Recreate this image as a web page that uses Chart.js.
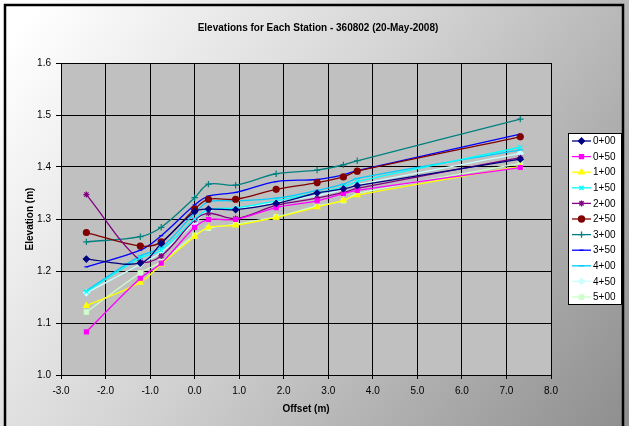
<!DOCTYPE html>
<html>
<head>
<meta charset="utf-8">
<script src="https://cdn.jsdelivr.net/npm/chart.js@4.4.1/dist/chart.umd.min.js"></script>
<style>
  html, body { margin: 0; padding: 0; background: #fff; }
  #wrap { width: 629px; height: 426px; }
</style>
</head>
<body>
<div id="wrap"><canvas id="chartCanvas" width="629" height="426"></canvas></div>
<script>
// offsets (m) shared by all stations
const offsets = [-2.43, -1.22, -0.75, 0.0, 0.31, 0.92, 1.83, 2.75, 3.34, 3.65, 7.31];

const stations = ["0+00", "0+50", "1+00", "1+50", "2+00", "2+50", "3+00", "3+50", "4+00", "4+50", "5+00"];

const elev_0_00 = [1.223, 1.215, 1.253, 1.314, 1.319, 1.318, 1.330, 1.350, 1.358, 1.364, 1.415];
const elev_0_50 = [1.083, 1.186, 1.215, 1.284, 1.299, 1.299, 1.322, 1.335, 1.349, 1.355, 1.399];
const elev_1_00 = [1.133, 1.178, 1.213, 1.266, 1.284, 1.288, 1.303, 1.323, 1.336, 1.346, 1.401];
const elev_1_50 = [1.160, 1.225, 1.240, 1.300, 1.318, 1.321, 1.335, 1.350, 1.362, 1.372, 1.438];
const elev_2_00 = [1.347, 1.220, 1.229, 1.298, 1.311, 1.301, 1.326, 1.340, 1.351, 1.359, 1.418];
const elev_2_50 = [1.274, 1.248, 1.256, 1.319, 1.338, 1.338, 1.357, 1.370, 1.381, 1.392, 1.458];
const elev_3_00 = [1.256, 1.266, 1.284, 1.341, 1.367, 1.365, 1.387, 1.394, 1.404, 1.412, 1.492];
const elev_3_50 = [1.208, 1.240, 1.268, 1.327, 1.344, 1.351, 1.372, 1.376, 1.385, 1.393, 1.463];
const elev_4_00 = [1.162, 1.229, 1.245, 1.311, 1.333, 1.335, 1.340, 1.355, 1.367, 1.378, 1.433];
const elev_4_50 = [1.158, 1.213, 1.236, 1.292, 1.316, 1.320, 1.332, 1.345, 1.357, 1.366, 1.426];
const elev_5_00 = [1.121, 1.196, 1.218, 1.269, 1.282, 1.290, 1.304, 1.325, 1.335, 1.349, 1.407];

const xTicks = { min: -3, max: 8, step: 1 };
const yTicks = { min: 1.0, max: 1.6, step: 0.1 };

const seriesValues = [elev_0_00, elev_0_50, elev_1_00, elev_1_50, elev_2_00, elev_2_50,
                      elev_3_00, elev_3_50, elev_4_00, elev_4_50, elev_5_00];
const colors = ["#000080", "#FF00FF", "#FFFF00", "#00FFFF", "#800080", "#800000",
                "#008080", "#0000FF", "#00CCFF", "#CCFFFF", "#CCFFCC"];
const markers = ["rectRot", "rect", "triangle", "crossRot", "star", "circle",
                 "cross", "line", "line", "rectRot", "rect"];
const markerSize = [3, 2.8, 3.2, 3, 3, 3, 3.2, 2, 2.8, 3, 3];

const FONT = "'Liberation Sans', Arial, sans-serif";

const datasets = stations.map((name, i) => ({
  label: name,
  data: offsets.map((x, j) => ({ x: x, y: seriesValues[i][j] })),
  borderColor: colors[i],
  backgroundColor: colors[i],
  borderWidth: 1.3,
  pointStyle: markers[i],
  pointRadius: markerSize[i],
  pointBorderWidth: 1.2,
  tension: 0.35
}));

const decor = {
  id: "decor",
  beforeDraw(chart) {
    const ctx = chart.ctx;
    const { left, top, right, bottom } = chart.chartArea;
    ctx.save();
    const g = ctx.createLinearGradient(40, 0, 629, 426);
    g.addColorStop(0, "#ffffff");
    g.addColorStop(0.45, "#d2d2d2");
    g.addColorStop(1, "#8e8e8e");
    ctx.fillStyle = g;
    ctx.fillRect(0, 0, chart.width, chart.height);
    ctx.fillStyle = "#C0C0C0";
    ctx.fillRect(left, top, right - left, bottom - top);
    ctx.restore();
  },
  afterDraw(chart) {
    const ctx = chart.ctx;
    ctx.save();
    // outer frame
    ctx.strokeStyle = "#000";
    ctx.lineWidth = 2.5;
    ctx.strokeRect(5, 5, 618, 430);
    // title
    ctx.fillStyle = "#000";
    ctx.font = "bold 10px " + FONT;
    ctx.textAlign = "center";
    ctx.textBaseline = "middle";
    ctx.fillText("Elevations for Each Station - 360802 (20-May-2008)", 318, 28);
    // legend
    const lx = 568, ly = 133, lw = 53, lh = 171;
    ctx.fillStyle = "#fff";
    ctx.fillRect(lx, ly, lw, lh);
    ctx.strokeStyle = "#000";
    ctx.lineWidth = 1;
    ctx.strokeRect(lx + 0.5, ly + 0.5, lw, lh);
    ctx.font = "10px " + FONT;
    ctx.textAlign = "left";
    chart.data.datasets.forEach((ds, i) => {
      const cy = 141 + i * 15.6;
      ctx.strokeStyle = ds.borderColor;
      ctx.fillStyle = ds.backgroundColor;
      ctx.lineWidth = 1.3;
      ctx.beginPath();
      ctx.moveTo(572, cy);
      ctx.lineTo(591, cy);
      ctx.stroke();
      Chart.helpers.drawPoint(ctx, { pointStyle: ds.pointStyle, rotation: 0, radius: ds.pointRadius, borderWidth: 1.2 }, 581.5, cy);
      ctx.fillStyle = "#000";
      ctx.fillText(ds.label, 593, cy + 0.5);
    });
    ctx.restore();
  }
};

new Chart(document.getElementById("chartCanvas"), {
  type: "line",
  data: { datasets: datasets },
  options: {
    responsive: false,
    animation: false,
    layout: { padding: { left: 12, right: 78, top: 63, bottom: 8 } },
    plugins: {
      legend: { display: false },
      title: { display: false },
      tooltip: { enabled: false }
    },
    scales: {
      x: {
        type: "linear",
        min: xTicks.min,
        max: xTicks.max,
        afterFit(scale) { scale.height = 43; },
        ticks: {
          stepSize: xTicks.step,
          padding: 6,
          color: "#000",
          font: { family: FONT, size: 10 },
          callback: v => v.toFixed(1)
        },
        grid: { color: "#000", lineWidth: 1, tickLength: 4 },
        border: { color: "#000", width: 1 },
        title: {
          display: true,
          text: "Offset (m)",
          color: "#000",
          font: { family: FONT, size: 10, weight: "bold" },
          padding: { top: 0, bottom: 3 }
        }
      },
      y: {
        min: yTicks.min,
        max: yTicks.max,
        afterFit(scale) { scale.width = 49; },
        ticks: {
          stepSize: yTicks.step,
          padding: 5,
          color: "#000",
          font: { family: FONT, size: 10 },
          callback: v => v.toFixed(1)
        },
        grid: { color: "#000", lineWidth: 1, tickLength: 5 },
        border: { color: "#000", width: 1 },
        title: {
          display: true,
          text: "Elevation (m)",
          color: "#000",
          font: { family: FONT, size: 10, weight: "bold" },
          padding: { top: 12, bottom: 0 }
        }
      }
    }
  },
  plugins: [decor]
});
</script>
</body>
</html>
